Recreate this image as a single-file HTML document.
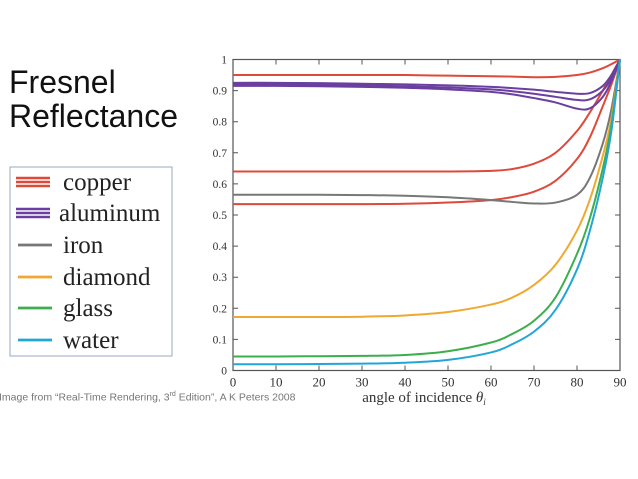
<!DOCTYPE html>
<html><head><meta charset="utf-8"><style>
body{margin:0;background:#fff;width:638px;height:479px;overflow:hidden;position:relative;font-family:"Liberation Sans",sans-serif}
.title{position:absolute;left:9px;font-size:32px;color:#111;line-height:1}
.caption{position:absolute;left:-1px;top:391px;font-size:10.5px;color:#777}
</style></head><body>
<div class="title" style="top:66px">Fresnel</div>
<div class="title" style="top:100px">Reflectance</div>
<div class="caption">Image from “Real-Time Rendering, 3<sup style="font-size:7px">rd</sup> Edition”, A K Peters 2008</div>
<svg id="chart" width="638" height="479" style="position:absolute;left:0;top:0" font-family="Liberation Serif, serif"></svg>
<script>
const angles=[0,10,20,30,40,50,60,65,70,75,80,83,86,88,90];
const copper1=[0.95,0.95,0.95,0.95,0.95,0.948,0.946,0.945,0.943,0.944,0.95,0.958,0.972,0.985,1];
const copper2=[0.64,0.64,0.64,0.64,0.64,0.64,0.642,0.648,0.665,0.7,0.77,0.83,0.9,0.95,1];
const copper3=[0.535,0.535,0.535,0.535,0.536,0.54,0.548,0.558,0.575,0.61,0.68,0.75,0.85,0.92,1];
const alum1=[0.925,0.925,0.924,0.922,0.92,0.917,0.912,0.908,0.903,0.896,0.89,0.892,0.915,0.95,1];
const alum2=[0.92,0.92,0.919,0.917,0.914,0.91,0.904,0.898,0.89,0.88,0.87,0.872,0.9,0.94,1];
const alum3=[0.915,0.915,0.914,0.912,0.909,0.904,0.896,0.888,0.876,0.862,0.842,0.843,0.88,0.93,1];
const iron=[0.565,0.565,0.565,0.564,0.562,0.557,0.548,0.542,0.537,0.54,0.565,0.62,0.73,0.84,1];
const diamond=[0.172,0.172,0.172,0.173,0.177,0.188,0.212,0.235,0.275,0.34,0.45,0.55,0.69,0.81,1];
const glass=[0.045,0.045,0.046,0.047,0.05,0.062,0.09,0.118,0.16,0.235,0.375,0.49,0.65,0.79,1];
const water=[0.02,0.02,0.021,0.022,0.025,0.034,0.058,0.085,0.125,0.195,0.325,0.45,0.62,0.77,1];
const xTicks=[0,10,20,30,40,50,60,70,80,90];
const yTicks=[0,0.1,0.2,0.3,0.4,0.5,0.6,0.7,0.8,0.9,1];
const seriesNames=["copper","aluminum","iron","diamond","glass","water"];

const X0=233,X1=620,Y0=370.5,Y1=59.5;
const xs=a=>X0+(a/90)*(X1-X0);
const ys=v=>Y0-v*(Y0-Y1);
const svg=document.getElementById('chart');
const NS="http://www.w3.org/2000/svg";
function mk(t,at){const e=document.createElementNS(NS,t);for(const k in at)e.setAttribute(k,at[k]);svg.appendChild(e);return e;}

const box=mk('rect',{x:X0,y:Y1,width:X1-X0,height:Y0-Y1,fill:'none',stroke:'#555','stroke-width':1.2});


xTicks.forEach(t=>{
  const x=xs(t);
  const tk=mk('path',{d:`M${x},${Y0}v-5M${x},${Y1}v5`,stroke:'#555','stroke-width':1});
  
  
  const l=mk('text',{x:x,y:Y0+16,'text-anchor':'middle','font-size':13,fill:'#333'});
  l.textContent=t;
  
  
});
yTicks.forEach(t=>{
  const y=ys(t);
  const tk=mk('path',{d:`M${X0},${y}h5M${X1},${y}h-5`,stroke:'#555','stroke-width':1});
  
  
  const l=mk('text',{x:X0-6,y:y+4,'text-anchor':'end','font-size':11.5,fill:'#333'});
  l.textContent=t;
  
  
});
const xt=mk('text',{x:424,y:402,'text-anchor':'middle','font-size':15,fill:'#333'});
xt.innerHTML='angle of incidence <tspan font-style="italic">θ</tspan><tspan font-style="italic" font-size="9" dy="3">i</tspan>';



function pathFor(vals){
  const p=angles.map((a,i)=>[xs(a),ys(vals[i])]);
  let d=`M${p[0][0]},${p[0][1]}`;
  for(let i=0;i<p.length-1;i++){
    const p0=p[Math.max(0,i-1)],p1=p[i],p2=p[i+1],p3=p[Math.min(p.length-1,i+2)];
    const c1=[p1[0]+(p2[0]-p0[0])/6,p1[1]+(p2[1]-p0[1])/6];
    const c2=[p2[0]-(p3[0]-p1[0])/6,p2[1]-(p3[1]-p1[1])/6];
    d+=`C${c1[0]},${c1[1]} ${c2[0]},${c2[1]} ${p2[0]},${p2[1]}`;
  }
  return d;
}
const lines=[[copper1,'#e0483a','copper-line-1'],[copper2,'#e0483a','copper-line-2'],[copper3,'#e0483a','copper-line-3'],
[alum1,'#6a3fa0','aluminum-line-1'],[alum2,'#6a3fa0','aluminum-line-2'],[alum3,'#6a3fa0','aluminum-line-3'],
[iron,'#777777','iron-line'],[diamond,'#f0a830','diamond-line'],[glass,'#3cae4c','glass-line'],[water,'#22a6d8','water-line']];
lines.forEach(([v,c,n])=>{
  const e=mk('path',{d:pathFor(v),fill:'none',stroke:c,'stroke-width':2});
  
  
});

const lb=mk('rect',{x:10,y:167,width:162,height:189,fill:'#fff',stroke:'#9ab','stroke-width':1});


const legColors=['#e0483a','#6a3fa0','#777777','#f0a830','#3cae4c','#22a6d8'];
const legY=[182,213,245,277,308,340];
const legCount=[3,3,1,1,1,1];
seriesNames.forEach((n,i)=>{
  const y=legY[i];
  if(legCount[i]===3){[-4,0,4].forEach(o=>{
    const s=mk('line',{x1:16,x2:50,y1:y+o,y2:y+o,stroke:legColors[i],'stroke-width':2.6});
    
    });}
  else{const s=mk('line',{x1:18,x2:52,y1:y,y2:y,stroke:legColors[i],'stroke-width':2.8});
    
    }
  const t=mk('text',{x:i===1?59:63,y:y+8,'font-size':25,fill:'#222'});
  t.textContent=n;
  
  
});
</script>
</body></html>
